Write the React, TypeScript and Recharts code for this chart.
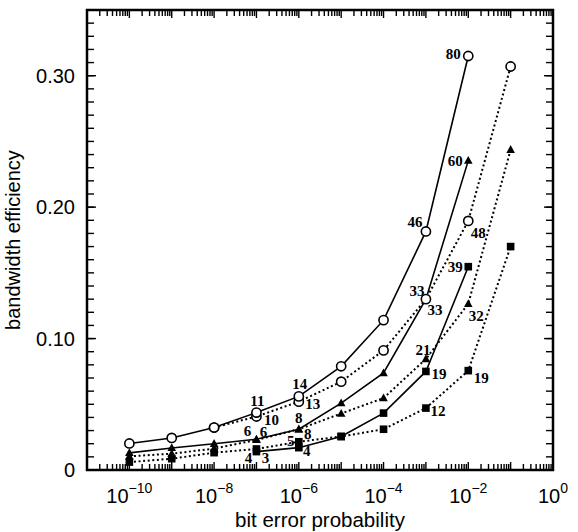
import React from 'react';
import { LineChart, Line, XAxis, YAxis, ReferenceArea, LabelList } from 'recharts';

// ---- data ----
const bitErrorProbability = [1e-10, 1e-9, 1e-8, 1e-7, 1e-6, 1e-5, 1e-4, 1e-3, 1e-2, 1e-1];
const solidCircle = [0.0202, 0.0244, 0.0323, 0.0437, 0.056, 0.0789, 0.114, 0.1815, 0.315, null];
const dottedCircle = [null, null, 0.0323, 0.0407, 0.052, 0.0672, 0.091, 0.13, 0.1895, 0.307];
const solidTriangle = [0.013, 0.0168, 0.02, 0.0234, 0.031, 0.0509, 0.0738, 0.13, 0.2354, null];
const dottedTriangle = [0.0104, 0.0124, 0.0163, 0.0229, 0.031, 0.043, 0.0547, 0.0845, 0.1265, 0.2437];
const solidSquare = [null, null, null, 0.014, 0.017, 0.0255, 0.0433, 0.075, 0.1547, null];
const dottedSquare = [0.006, 0.0086, 0.0132, 0.016, 0.0215, 0.0255, 0.031, 0.0471, 0.0756, 0.17];

// point annotations
const solidCircleTags = ['', '', '', '11', '14', '', '', '46', '80', ''];
const dottedCircleTags = ['', '', '', '10', '13', '', '', '33', '48', ''];
const solidTriangleTags = ['', '', '', '6', '8', '', '', '33', '60', ''];
const dottedTriangleTags = ['', '', '', '6', '8', '', '', '21', '32', ''];
const solidSquareTags = ['', '', '', '4', '5', '', '', '19', '39', ''];
const dottedSquareTags = ['', '', '', '3', '4', '', '', '12', '19', ''];

// axis ticks
const xMajorTicks = [1e-10, 1e-8, 1e-6, 1e-4, 1e-2, 1];
const xMajorExponents = ['\u221210', '\u22128', '\u22126', '\u22124', '\u22122', '0'];
const xDecadeTicks = [1e-11, 1e-10, 1e-9, 1e-8, 1e-7, 1e-6, 1e-5, 1e-4, 1e-3, 1e-2, 1e-1, 1];
const yMajorTicks = [0, 0.1, 0.2, 0.3];
const yMajorLabels = ['0', '0.10', '0.20', '0.30'];

const xMinorTicks: number[] = [];
for (let k = -11; k < 0; k++) {
  for (let m = 2; m <= 9; m++) xMinorTicks.push(m * Math.pow(10, k));
}
const yMinorTicks: number[] = [];
for (let i = 0; i <= 35; i++) yMinorTicks.push(Number((i * 0.01).toFixed(2)));

const rows = bitErrorProbability.map((x, i) => ({
  x,
  sc: solidCircle[i],
  dc: dottedCircle[i],
  st: solidTriangle[i],
  dt: dottedTriangle[i],
  ss: solidSquare[i],
  ds: dottedSquare[i],
}));

// label placement (dx, dy) relative to point, by point index
const offSC: Record<number, [number, number]> = { 3: [1, -12], 4: [1, -12], 7: [-11, -9], 8: [-15, -2] };
const offDC: Record<number, [number, number]> = { 3: [15, 3], 4: [14, 2], 7: [9, 11], 8: [10, 12] };
const offST: Record<number, [number, number]> = { 3: [-9, -8], 4: [0, -11], 7: [-9, -8], 8: [-13, 0] };
const offDT: Record<number, [number, number]> = { 3: [7, -8], 4: [9, 5], 7: [-3, -9], 8: [8, 12] };
const offSS: Record<number, [number, number]> = { 3: [-8, 6], 4: [-8, -7], 7: [13, 3], 8: [-13, 0] };
const offDS: Record<number, [number, number]> = { 3: [9, 9], 4: [8, 9], 7: [12, 3], 8: [13, 7] };

const SANS = '"Liberation Sans", Arial, sans-serif';
const SERIF = '"Liberation Serif", "Times New Roman", serif';

const makeTag = (tags: string[], offs: Record<number, [number, number]>) => (p: any) => {
  const i = p.index;
  const t = tags[i];
  const x = p.x ?? p.viewBox?.x;
  const y = p.y ?? p.viewBox?.y;
  if (!t || x == null || y == null || isNaN(x) || isNaN(y)) return null;
  const [dx, dy] = offs[i] || [0, -10];
  return (
    <text
      key={`tag-${i}`}
      x={x + dx}
      y={y + dy}
      textAnchor="middle"
      dominantBaseline="central"
      fontFamily={SERIF}
      fontWeight="bold"
      fontSize={15}
      fill="#000"
    >
      {t}
    </text>
  );
};

const bad = (p: any) => p.cx == null || p.cy == null || isNaN(p.cx) || isNaN(p.cy) || p.value == null;

const circleDot = (p: any) =>
  bad(p) ? <g key={`c${p.index}`} /> : (
    <circle key={`c${p.index}`} cx={p.cx} cy={p.cy} r={4.6} fill="#fff" stroke="#000" strokeWidth={1.6} />
  );
const triangleDot = (p: any) =>
  bad(p) ? <g key={`t${p.index}`} /> : (
    <polygon
      key={`t${p.index}`}
      points={`${p.cx},${p.cy - 4.6} ${p.cx + 4.3},${p.cy + 3.2} ${p.cx - 4.3},${p.cy + 3.2}`}
      fill="#000"
    />
  );
const squareDot = (p: any) =>
  bad(p) ? <g key={`s${p.index}`} /> : (
    <rect key={`s${p.index}`} x={p.cx - 3.8} y={p.cy - 3.8} width={7.6} height={7.6} fill="#000" />
  );

const PowerTick = (props: any) => {
  const { x, y, payload } = props;
  const i = xMajorTicks.indexOf(payload.value);
  const exp = i >= 0 ? xMajorExponents[i] : '';
  return (
    <text x={x} y={y + 33} textAnchor="middle" fontFamily={SANS} fontSize={20} fill="#000">
      <tspan>10</tspan>
      <tspan dy={-10} fontSize={14}>{exp}</tspan>
    </text>
  );
};

const YTick = (props: any) => {
  const { x, y, payload } = props;
  const i = yMajorTicks.indexOf(payload.value);
  return (
    <text x={x} y={y} textAnchor="end" dominantBaseline="central" fontFamily={SANS} fontSize={20} fill="#000">
      {i >= 0 ? yMajorLabels[i] : ''}
    </text>
  );
};

const NoText = () => <g />;

const XDOM: [number, number] = [1e-11, 1];
const YDOM: [number, number] = [0, 0.35];

const tickAxisX = (id: string, ticks: number[], size: number, orientation: 'top' | 'bottom') => (
  <XAxis key={id} xAxisId={id} type="number" scale="log" domain={XDOM} allowDataOverflow dataKey="x"
    ticks={ticks} interval={0} tick={<NoText />} axisLine={false} mirror height={1} tickSize={size}
    tickLine={{ stroke: '#000', strokeWidth: 1.4 }} orientation={orientation} />
);
const tickAxisY = (id: string, ticks: number[], size: number, orientation: 'left' | 'right') => (
  <YAxis key={id} yAxisId={id} type="number" domain={YDOM} allowDataOverflow ticks={ticks} interval={0}
    tick={<NoText />} axisLine={false} mirror width={1} tickSize={size}
    tickLine={{ stroke: '#000', strokeWidth: 1.4 }} orientation={orientation} />
);

// invisible carriers so every tick axis has a series bound to it
const carriers: [string, string][] = [
  ['bMinor', 'lMinor'],
  ['bMajor', 'rMinor'],
  ['tMinor', 'lMajor'],
  ['tMajor', 'rMajor'],
];

export default function App() {
  return (
    <div style={{ position: 'absolute', left: 0, top: 0, background: '#fff' }}>
      <LineChart width={578} height={532} data={rows} margin={{ top: 10, right: 25, bottom: 0, left: 0 }}>
        {tickAxisX('bMinor', xMinorTicks, 5, 'bottom')}
        {tickAxisX('bMajor', xDecadeTicks, 8, 'bottom')}
        {tickAxisX('tMinor', xMinorTicks, 5, 'top')}
        {tickAxisX('tMajor', xDecadeTicks, 8, 'top')}
        <XAxis xAxisId="main" type="number" scale="log" domain={XDOM} allowDataOverflow dataKey="x"
          ticks={xMajorTicks} interval={0} tick={<PowerTick />} tickLine={false} axisLine={false}
          tickSize={0} tickMargin={0} height={62} orientation="bottom"
          label={{ value: 'bit error probability', position: 'insideBottom', offset: 5, fontFamily: SANS, fontSize: 20.5, fill: '#000' }} />

        {tickAxisY('lMinor', yMinorTicks, 6, 'left')}
        {tickAxisY('rMinor', yMinorTicks, 6, 'right')}
        {tickAxisY('lMajor', yMajorTicks, 9, 'left')}
        {tickAxisY('rMajor', yMajorTicks, 9, 'right')}
        <YAxis yAxisId="main" type="number" domain={YDOM} allowDataOverflow ticks={yMajorTicks} interval={0}
          tick={<YTick />} tickLine={false} axisLine={false} tickSize={0} tickMargin={12} width={87}
          orientation="left"
          label={{ value: 'bandwidth efficiency', angle: -90, position: 'insideLeft', offset: 13, fontFamily: SANS, fontSize: 20, fill: '#000', style: { textAnchor: 'middle' } }} />

        {carriers.map(([xa, ya]) => (
          <Line key={`${xa}-${ya}`} xAxisId={xa} yAxisId={ya} dataKey="sc" stroke="none" strokeWidth={0}
            dot={false} activeDot={false} legendType="none" isAnimationActive={false} />
        ))}

        <Line xAxisId="main" yAxisId="main" dataKey="ds" stroke="#000" strokeWidth={2} strokeDasharray="2 2.6"
          dot={squareDot} activeDot={false} isAnimationActive={false}>
          <LabelList dataKey="ds" content={makeTag(dottedSquareTags, offDS)} />
        </Line>
        <Line xAxisId="main" yAxisId="main" dataKey="ss" stroke="#000" strokeWidth={1.6}
          dot={squareDot} activeDot={false} isAnimationActive={false}>
          <LabelList dataKey="ss" content={makeTag(solidSquareTags, offSS)} />
        </Line>
        <Line xAxisId="main" yAxisId="main" dataKey="dt" stroke="#000" strokeWidth={2} strokeDasharray="2 2.6"
          dot={triangleDot} activeDot={false} isAnimationActive={false}>
          <LabelList dataKey="dt" content={makeTag(dottedTriangleTags, offDT)} />
        </Line>
        <Line xAxisId="main" yAxisId="main" dataKey="st" stroke="#000" strokeWidth={1.6}
          dot={triangleDot} activeDot={false} isAnimationActive={false}>
          <LabelList dataKey="st" content={makeTag(solidTriangleTags, offST)} />
        </Line>
        <Line xAxisId="main" yAxisId="main" dataKey="dc" stroke="#000" strokeWidth={2} strokeDasharray="2 2.6"
          dot={circleDot} activeDot={false} isAnimationActive={false}>
          <LabelList dataKey="dc" content={makeTag(dottedCircleTags, offDC)} />
        </Line>
        <Line xAxisId="main" yAxisId="main" dataKey="sc" stroke="#000" strokeWidth={1.6}
          dot={circleDot} activeDot={false} isAnimationActive={false}>
          <LabelList dataKey="sc" content={makeTag(solidCircleTags, offSC)} />
        </Line>

        <ReferenceArea xAxisId="main" yAxisId="main" x1={XDOM[0]} x2={XDOM[1]} y1={YDOM[0]} y2={YDOM[1]}
          fill="none" fillOpacity={0} stroke="#000" strokeWidth={2.5} ifOverflow="visible" />
      </LineChart>
    </div>
  );
}
